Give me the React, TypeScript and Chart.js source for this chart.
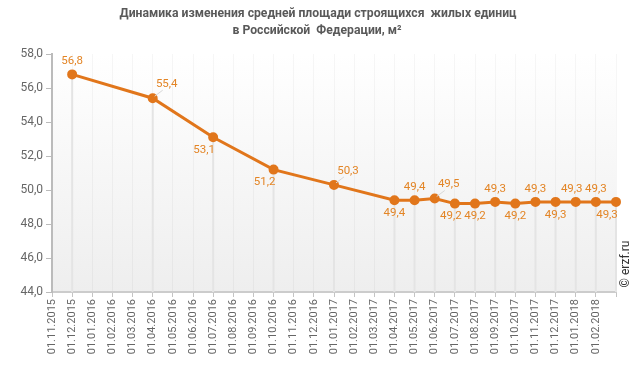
import React, { useEffect, useRef } from 'react';
import { Chart, registerables } from 'chart.js';

Chart.register(...registerables);

const categories = [
  '01.11.2015', '01.12.2015', '01.01.2016', '01.02.2016', '01.03.2016', '01.04.2016',
  '01.05.2016', '01.06.2016', '01.07.2016', '01.08.2016', '01.09.2016', '01.10.2016',
  '01.11.2016', '01.12.2016', '01.01.2017', '01.02.2017', '01.03.2017', '01.04.2017',
  '01.05.2017', '01.06.2017', '01.07.2017', '01.08.2017', '01.09.2017', '01.10.2017',
  '01.11.2017', '01.12.2017', '01.01.2018', '01.02.2018', '01.03.2018',
];

const values: (number | null)[] = [
  null, 56.8, null, null, null, 55.4,
  null, null, 53.1, null, null, 51.2,
  null, null, 50.3, null, null, 49.4,
  49.4, 49.5, 49.2, 49.2, 49.3, 49.2,
  49.3, 49.3, 49.3, 49.3, 49.3,
];

// where each value label sits relative to its point
const labelSides: (string | null)[] = [
  null, 'above', null, null, null, 'aboveRight',
  null, null, 'belowLeft', null, null, 'belowLeft',
  null, null, 'aboveRight', null, null, 'below',
  'above', 'aboveRight', 'belowSlightLeft', 'below', 'above', 'below',
  'above', 'below', 'aboveSlightLeft', 'above', 'belowLeft',
];

const yTicks = { min: 44, max: 58, step: 2 };

const titleLines = [
  'Динамика изменения средней площади строящихся  жилых единиц',
  'в Российской  Федерации, м²',
];

const ORANGE = '#e1761b';
const LABEL_ORANGE = '#e38526';

const fmt = (v: number) => v.toFixed(1).replace('.', ',');

const offsets: Record<string, [number, number]> = {
  above: [0, -13],
  aboveSlightLeft: [-4, -13],
  aboveRight: [14, -14],
  below: [0, 13],
  belowSlightLeft: [-4, 13],
  belowLeft: [-9, 13],
};

const decorPlugin = {
  id: 'decor',
  beforeDraw(chart: any) {
    const { ctx, chartArea: a } = chart;
    ctx.save();
    const g = ctx.createLinearGradient(0, a.top, 0, a.bottom);
    g.addColorStop(0, '#ffffff');
    g.addColorStop(1, '#eeeeee');
    ctx.fillStyle = g;
    ctx.fillRect(a.left, a.top, a.right - a.left, a.bottom - a.top);
    ctx.restore();
  },
  beforeDatasetsDraw(chart: any) {
    const { ctx, chartArea: a } = chart;
    const meta = chart.getDatasetMeta(0);
    ctx.save();
    ctx.strokeStyle = '#e4e4e4';
    ctx.lineWidth = 2;
    meta.data.forEach((pt: any, i: number) => {
      if (values[i] == null) return;
      ctx.beginPath();
      ctx.moveTo(pt.x, pt.y);
      ctx.lineTo(pt.x, a.bottom);
      ctx.stroke();
    });
    ctx.restore();
  },
  afterDatasetsDraw(chart: any) {
    const { ctx } = chart;
    const meta = chart.getDatasetMeta(0);
    ctx.save();
    ctx.font = '11.5px Roboto, "Liberation Sans", Arial, sans-serif';
    ctx.textAlign = 'center';
    ctx.textBaseline = 'middle';
    meta.data.forEach((pt: any, i: number) => {
      const v = values[i];
      const side = labelSides[i];
      if (v == null || !side) return;
      const [dx, dy] = offsets[side];
      if (side === 'aboveRight') {
        ctx.strokeStyle = '#d8d8d8';
        ctx.lineWidth = 1;
        ctx.beginPath();
        ctx.moveTo(pt.x + 2, pt.y - 2);
        ctx.lineTo(pt.x + dx - 4, pt.y + dy + 6);
        ctx.stroke();
      }
      ctx.fillStyle = LABEL_ORANGE;
      ctx.fillText(fmt(v), pt.x + dx, pt.y + dy);
    });
    ctx.restore();
  },
  afterDraw(chart: any) {
    const { ctx, width } = chart;
    ctx.save();
    ctx.fillStyle = '#595959';
    ctx.font = 'bold 12.2px Roboto, "Liberation Sans", Arial, sans-serif';
    ctx.textAlign = 'center';
    ctx.textBaseline = 'middle';
    ctx.fillText(titleLines[0], width / 2 - 3, 14);
    ctx.fillText(titleLines[1], width / 2 - 4, 31);
    ctx.translate(626, 264);
    ctx.rotate(-Math.PI / 2);
    ctx.fillStyle = '#333333';
    ctx.font = '12px Roboto, "Liberation Sans", Arial, sans-serif';
    ctx.fillText('© erzf.ru', 0, 0);
    ctx.restore();
  },
};

export default function App() {
  const ref = useRef<HTMLCanvasElement>(null);
  useEffect(() => {
    if (!ref.current) return;
    const chart = new Chart(ref.current, {
      type: 'line',
      data: {
        labels: categories,
        datasets: [
          {
            data: values,
            borderColor: ORANGE,
            backgroundColor: ORANGE,
            borderWidth: 3,
            pointRadius: 3.5,
            pointBackgroundColor: ORANGE,
            pointBorderColor: ORANGE,
            spanGaps: true,
            tension: 0,
          },
        ],
      },
      options: {
        responsive: false,
        animation: false,
        layout: { padding: { top: 54, right: 26, left: 0, bottom: 0 } },
        plugins: {
          legend: { display: false },
          tooltip: { enabled: false },
          title: { display: false },
        },
        scales: {
          x: {
            offset: false,
            afterFit: (s: any) => { s.height = 83; },
            grid: {
              color: 'rgba(0,0,0,0.035)',
              tickColor: '#c4c4c4',
              tickLength: 5,
              drawOnChartArea: true,
            },
            border: { display: true, color: '#cccccc', width: 2 },
            ticks: {
              autoSkip: false,
              maxRotation: 90,
              minRotation: 90,
              padding: 2,
              color: '#666666',
              font: { size: 11, family: 'Roboto, "Liberation Sans", Arial, sans-serif' },
              callback: (_v: any, i: number) => (i === categories.length - 1 ? '' : categories[i]),
            },
          },
          y: {
            min: yTicks.min,
            max: yTicks.max,
            afterFit: (s: any) => { s.width = 52; },
            grid: { drawOnChartArea: false, color: '#bbbbbb', tickLength: 6 },
            border: { display: true, color: '#bbbbbb', width: 2 },
            ticks: {
              stepSize: yTicks.step,
              padding: 3,
              color: '#666666',
              font: { size: 12, family: 'Roboto, "Liberation Sans", Arial, sans-serif' },
              callback: (v: any) => fmt(Number(v)),
            },
          },
        },
      },
      plugins: [decorPlugin],
    });
    return () => chart.destroy();
  }, []);
  return (
    <div style={{ position: 'absolute', left: 0, top: 0, width: 642, height: 375, background: '#fff' }}>
      <canvas ref={ref} width={642} height={375} style={{ display: 'block' }} />
    </div>
  );
}
